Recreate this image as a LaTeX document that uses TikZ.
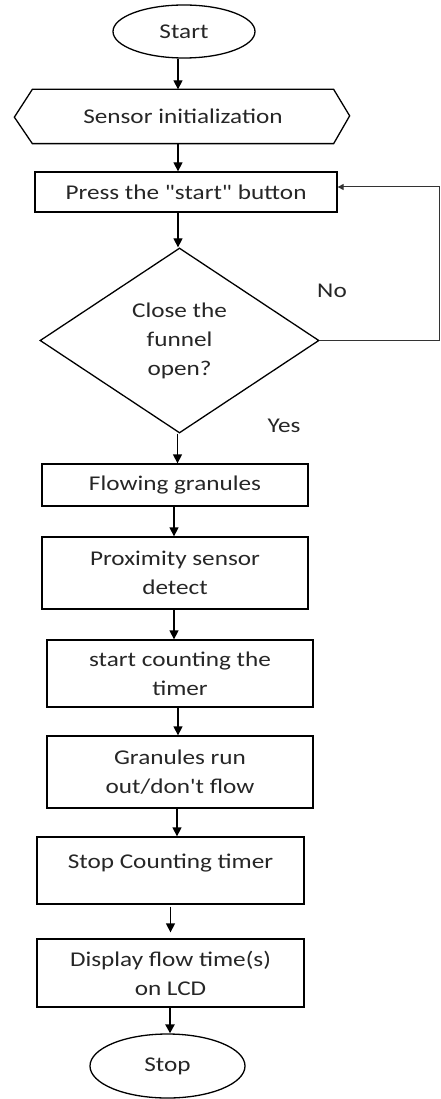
\documentclass[tikz,border=0pt]{standalone}
\usepackage{fontspec}
\setmainfont{Carlito}[FakeStretch=1.2,Ligatures=TeXOff]
\usetikzlibrary{shapes.geometric,arrows.meta,calc}
\begin{document}
\begin{tikzpicture}[x=1pt,y=-1pt,
  every node/.style={font=\fontsize{21}{29}\selectfont, text=black!85, line width=1.3pt, inner sep=0pt},
  box/.style={draw, rectangle, align=center},
  term/.style={draw, ellipse},
  arr/.style={line width=1.3pt, -{Triangle[length=9pt,width=9pt]}},
  thinarr/.style={line width=1pt, draw=black!80, -{Triangle[length=6pt,width=6pt]}}]
\useasboundingbox (0,0) rectangle (441,1099);
\node[term, minimum width=142pt, minimum height=53pt] (start) at (184,31.5) {Start};
\node[minimum width=300pt, minimum height=53pt] (init) at (183,116.5) {Sensor initialization};
\draw[line width=1.3pt] (init.north west) -- (init.north east) -- ++(16,26.5) -- (init.south east) -- (init.south west) -- ++(-18,-26.5) -- cycle;
\node[box, minimum width=302pt, minimum height=40pt] (press) at (186,192) {Press the "start" button};
\node[draw, diamond, shape aspect=1.5, minimum width=279pt, minimum height=185pt, align=center] (dec) at (179.5,340.5) {Close the\\funnel\\open?};
\node (no) at (332,291) {No};
\node (yes) at (284,426) {Yes};
\node[box, minimum width=266pt, minimum height=42pt] (flow) at (175,485) {Flowing granules};
\node[box, minimum width=266pt, minimum height=72pt] (prox) at (175,573) {Proximity sensor\\detect};
\node[box, minimum width=266pt, minimum height=67pt] (count) at (180,673.5) {start counting the\\timer};
\node[box, minimum width=266pt, minimum height=72pt] (gran) at (180,772) {Granules run\\out/don't flow};
\node[box, minimum width=267pt, minimum height=67pt] (stopc) at (170.5,870.5) {\raisebox{0pt}[\height][\dimexpr\depth+15pt\relax]{Stop Counting timer}};
\node[box, minimum width=267pt, minimum height=68pt] (disp) at (170.5,973) {Display flow time(s)\\on LCD};
\node[term, minimum width=155pt, minimum height=64pt] (stop) at (167.5,1066) {Stop};
\coordinate (fbr) at (439,187);
\draw[arr] ([xshift=-6pt]start.south) -- ([xshift=-6pt]start.south |- init.north);
\draw[arr] ([xshift=-5pt]init.south) -- ([xshift=-5pt]init.south |- press.north);
\draw[arr] ([xshift=-8pt]press.south) -- ([xshift=-8pt]press.south |- dec.north);
\draw[arr] ([xshift=-2pt]dec.south) -- ([xshift=-2pt]dec.south |- flow.north);
\draw[arr] ([xshift=-1pt]flow.south) -- ([xshift=-1pt]flow.south |- prox.north);
\draw[arr] ([xshift=-1pt]prox.south) -- ([xshift=-1pt]prox.south |- count.north);
\draw[arr] ([xshift=-2pt]count.south) -- ([xshift=-2pt]count.south |- gran.north);
\draw[arr] ([xshift=-3pt]gran.south) -- ([xshift=-3pt]gran.south |- stopc.north);
\draw[arr, shorten <=2pt, shorten >=6pt] (stopc.south) -- (stopc.south |- disp.north);
\draw[arr, line width=2.6pt] ([xshift=-0.5pt]disp.south) -- ([xshift=-0.5pt]disp.south |- stop.north);
\draw[thinarr] (dec.east) -- (dec.east -| fbr) -- (fbr) -- (fbr -| press.east);
\end{tikzpicture}
\end{document}
